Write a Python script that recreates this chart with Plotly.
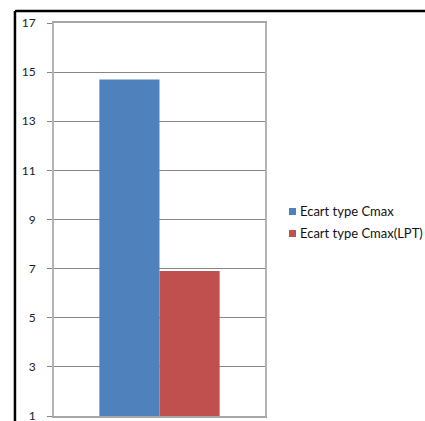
import plotly.graph_objects as go

# Data
categories = [""]
series_names = ["Ecart type Cmax", "Ecart type Cmax(LPT)"]
series_values = [[14.7], [6.9]]
series_colors = ["#4F81BD", "#C0504D"]
y_ticks = [1, 3, 5, 7, 9, 11, 13, 15, 17]

fig = go.Figure()
for name, vals, col in zip(series_names, series_values, series_colors):
    fig.add_trace(go.Bar(x=categories, y=vals, name=name, showlegend=False,
                         marker=dict(color=col, line=dict(width=0))))

font_family = "Lato, 'Open Sans', sans-serif"

fig.update_layout(
    width=425, height=421,
    margin=dict(l=54, r=160, t=23, b=5, autoexpand=False),
    paper_bgcolor="white", plot_bgcolor="white",
    barmode="group", bargap=0.43, bargroupgap=0,
    font=dict(family=font_family, size=12, color="#222"),
    xaxis=dict(showticklabels=False, showgrid=False, ticks="",
               showline=True, linecolor="#a6a6a6", linewidth=2, mirror=True),
    yaxis=dict(range=[1, 17], tickvals=y_ticks, ticktext=[str(v) for v in y_ticks],
               showgrid=True, gridcolor="#878787", gridwidth=1,
               ticks="outside", ticklen=5, tickcolor="#878787",
               ticklabelstandoff=9, ticklabeloverflow="allow", automargin=False,
               showline=True, linecolor="#b4b4b4", linewidth=2, mirror=True,
               zeroline=False, tickfont=dict(size=12, color="#222")),
)

# Legend on the right: small colour square followed by the series name
legend_x = 1.1137
legend_y = [0.5204, 0.4644]
for name, col, ly in zip(series_names, series_colors, legend_y):
    fig.add_shape(type="rect", xref="paper", yref="paper",
                  xsizemode="pixel", ysizemode="pixel",
                  xanchor=legend_x, yanchor=ly, x0=0, x1=7, y0=-3.5, y1=3.5,
                  fillcolor=col, line=dict(width=0))
    fig.add_annotation(x=legend_x + 0.045, y=ly, xref="paper", yref="paper",
                       text=name, showarrow=False, xanchor="left", yanchor="middle",
                       font=dict(size=13, color="#111", family=font_family))

# Outer chart frame (left and top edges)
fx, fy = -0.185, 1.0305
fig.add_shape(type="line", xref="paper", yref="paper", x0=fx, x1=1.9, y0=fy, y1=fy,
              line=dict(color="black", width=2.5))
fig.add_shape(type="line", xref="paper", yref="paper", x0=fx, x1=fx, y0=-0.05, y1=fy,
              line=dict(color="black", width=2.5))

fig.write_html("out.html")
